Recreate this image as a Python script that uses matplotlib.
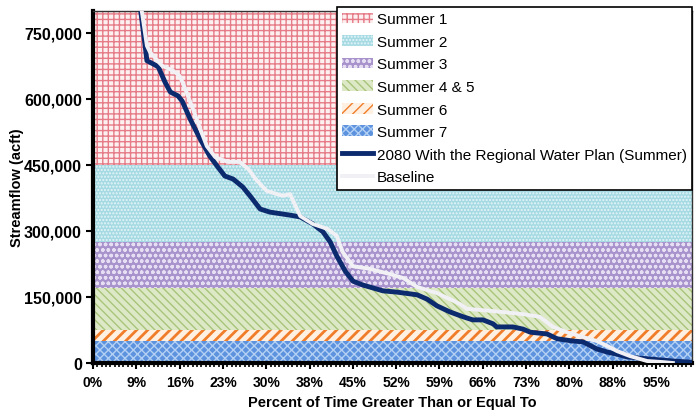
import matplotlib
matplotlib.use("Agg")
import matplotlib.pyplot as plt
import numpy as np
from matplotlib.ticker import FuncFormatter, MultipleLocator

plt.rcParams['font.family'] = ['Liberation Sans', 'DejaVu Sans']
plt.rcParams['hatch.linewidth'] = 1.0

# ---- data ----
x_tick_labels = ["0%", "9%", "16%", "23%", "30%", "38%", "45%", "52%",
                 "59%", "66%", "73%", "80%", "88%", "95%"]

# drought-stage bands (acft): lower, upper
band_names = ["Summer 1", "Summer 2", "Summer 3", "Summer 4 & 5", "Summer 6", "Summer 7"]
band_low = [450000, 275000, 170000, 74000, 50000, 0]
band_high = [800000, 450000, 275000, 170000, 74000, 50000]

# 2080 With the Regional Water Plan (Summer)
plan_x = [7.5, 8.7, 9.0, 10.0, 10.9, 12.0, 12.9, 14.2, 14.9, 16.2, 17.9, 19.5,
          20.7, 22.0, 23.4, 25.0, 26.2, 27.9, 29.5, 32.9, 34.6, 36.7, 38.4,
          39.6, 40.7, 42.1, 43.4, 45.1, 48.4, 50.8, 54.1, 55.8, 57.4, 59.6,
          61.8, 63.4, 65.1, 66.8, 67.4, 70.1, 71.8, 73.0, 75.8, 77.5, 80.1,
          81.8, 84.1, 85.8, 87.5, 89.1, 91.3, 94.7, 96.8, 99.7]
plan_y = [850000, 721000, 687000, 680000, 673000, 639000, 616000, 607000,
          595000, 555000, 509000, 470000, 448000, 425000, 418000, 400000,
          380000, 350000, 343000, 336000, 332000, 316000, 298000, 275000,
          243000, 209000, 186000, 177000, 164000, 161000, 155000, 145000,
          130000, 116000, 105000, 98000, 98000, 89000, 82000, 82000, 77000,
          70000, 66000, 55000, 50000, 48000, 32000, 25000, 20000, 14000,
          11000, 7000, 4500, 2000]

# Baseline
base_x = [7.6, 9.0, 9.5, 11.5, 13.4, 14.5, 15.4, 16.7, 17.9, 19.0, 20.4, 22.5,
          24.5, 25.9, 27.4, 29.0, 31.7, 32.9, 34.6, 36.7, 39.1, 40.7, 41.7,
          43.4, 46.2, 49.6, 51.8, 54.1, 57.4, 61.3, 62.4, 66.8, 71.8, 74.6,
          76.8, 79.1, 81.3, 84.1, 85.8, 87.5, 89.6, 92.5, 95.2, 96.8]
base_y = [850000, 721000, 707000, 676000, 664000, 652000, 623000, 577000,
          532000, 493000, 468000, 457000, 457000, 441000, 414000, 391000,
          380000, 384000, 334000, 316000, 305000, 289000, 252000, 220000,
          214000, 202000, 193000, 173000, 159000, 134000, 123000, 118000,
          111000, 105000, 82000, 70000, 61000, 50000, 39000, 27000, 16000,
          4500, 2000, 0]

# ---- styling ----
band_face = ['#fdf0f1', '#a6dae3', '#a893cc', '#dde9c6', '#fff0e2', '#5d93de']
band_hatch = ['+++', '.....', 'ooo', '\\\\\\\\', '///', 'xxxx']
band_hcol = ['#e57c87', '#e4f5f8', '#e6def3', '#a8c47a', '#f07d2a', '#b3d0f4']
band_hlw = [1.0, 1.0, 1.0, 1.0, 2.0, 1.0]

fig = plt.figure(figsize=(6.97, 4.14), dpi=100)
ax = fig.add_axes([93/697, 1-364/414, (692-93)/697, (364-12)/414])

handles = []
for name, lo, hi, fc, h, hc, hl in zip(band_names, band_low, band_high, band_face,
                                      band_hatch, band_hcol, band_hlw):
    p = ax.axhspan(lo, hi, facecolor=fc, hatch=h, edgecolor=hc, linewidth=0, label=name, zorder=1)
    try:
        p.set_hatch_linewidth(hl)
    except Exception:
        pass
    handles.append(p)

l1, = ax.plot(plan_x, plan_y, color='#0c2a6e', lw=3.5, solid_joinstyle='round',
              label='2080 With the Regional Water Plan (Summer)', zorder=3)
l2, = ax.plot(base_x, base_y, color='#f0f0f5', lw=2.8, solid_joinstyle='round',
              label='Baseline', zorder=4)
handles += [l1, l2]

ax.set_xlim(0, 100)
ax.set_ylim(0, 800000)

step = 7.23
ax.set_xticks(np.arange(len(x_tick_labels)) * step)
ax.set_xticklabels(x_tick_labels, fontsize=10, fontweight='bold')
ax.xaxis.set_minor_locator(MultipleLocator(step / 10))
ax.set_yticks(np.arange(0, 750001, 150000))
ax.yaxis.set_major_formatter(FuncFormatter(lambda v, p: f"{int(v):,}"))
for t in ax.get_yticklabels():
    t.set_fontsize(11.5)
    t.set_fontweight('bold')

ax.tick_params(axis='x', which='major', length=4, width=1.5, direction='out', pad=5)
ax.tick_params(axis='x', which='minor', length=3, width=1.2, direction='out')
ax.tick_params(axis='y', which='major', length=5, width=1.5, direction='out', pad=3)

for s in ['left', 'bottom']:
    ax.spines[s].set_linewidth(3)
    ax.spines[s].set_color('black')
for s in ['top', 'right']:
    ax.spines[s].set_linewidth(1)
    ax.spines[s].set_color('#333333')

ax.set_xlabel('Percent of Time Greater Than or Equal To', fontsize=10.5, fontweight='bold', labelpad=4)
ax.set_ylabel('Streamflow (acft)', fontsize=10.5, fontweight='bold', labelpad=0)

leg = fig.legend(handles=handles, loc='upper right', bbox_to_anchor=(692/697, 1-8/414),
                 bbox_transform=fig.transFigure, fontsize=11, frameon=True, fancybox=False,
                 framealpha=1, edgecolor='black', borderaxespad=0, borderpad=0.35,
                 labelspacing=0.56, handlelength=2.0, handletextpad=0.25)
leg.get_frame().set_linewidth(1.2)
leg.set_zorder(10)

fig.savefig('out.png', dpi=100)
